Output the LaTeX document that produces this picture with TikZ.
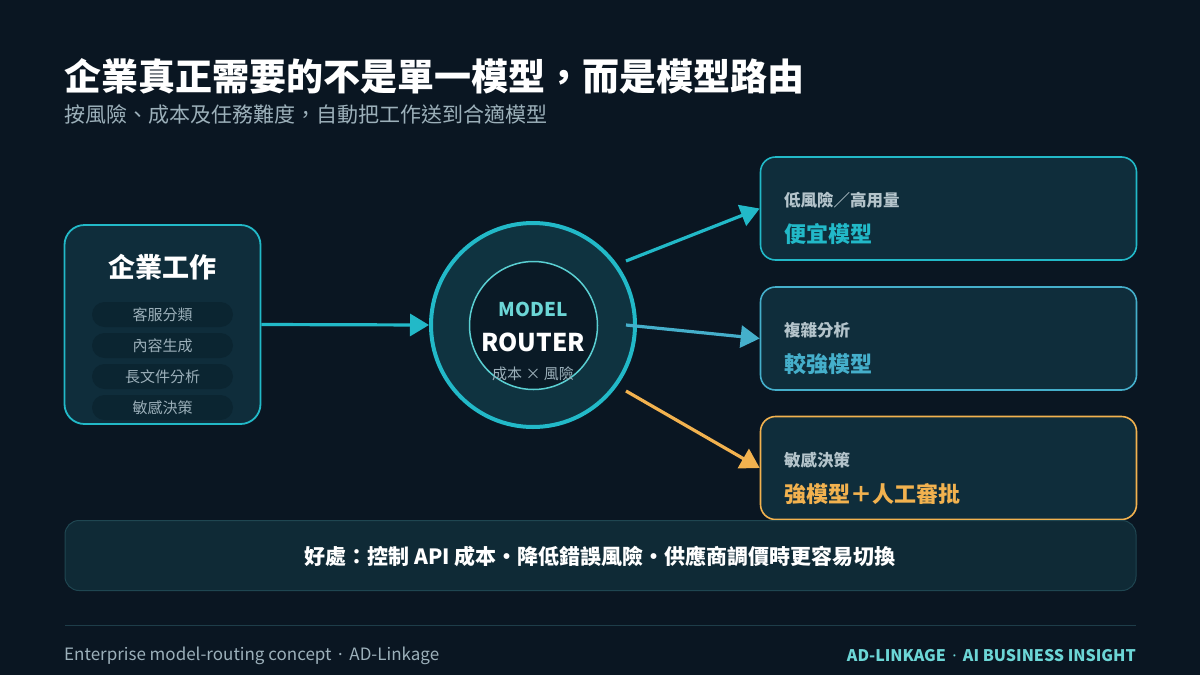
\documentclass[tikz,border=0pt]{standalone}
\usepackage{fontspec}
\setmainfont{Noto Sans CJK TC}
\newfontfamily\dotf{Noto Sans}
\usetikzlibrary{arrows.meta}
\definecolor{bg}{HTML}{0A1622}
\definecolor{boxfill}{HTML}{0F2D3B}
\definecolor{pillfill}{HTML}{0B2531}
\definecolor{tealc}{HTML}{22B9C8}
\definecolor{bluec}{HTML}{45AFCB}
\definecolor{orangec}{HTML}{F2B24F}
\definecolor{lightteal}{HTML}{6CD6D6}
\definecolor{grayt}{HTML}{9CB0BA}
\definecolor{labelt}{HTML}{B4C4CB}
\definecolor{barfill}{HTML}{0F2A36}
\definecolor{barline}{HTML}{1F4651}
\definecolor{sepline}{HTML}{1E3D49}
\definecolor{innerfill}{HTML}{0A1A26}
\definecolor{ringfill}{HTML}{0F3340}
\definecolor{innerline}{HTML}{5ACFD2}
\newcommand{\fsz}[1]{\fontsize{#1}{#1}\selectfont}
\tikzset{
  card/.style={draw=#1, line width=1.6pt, fill=boxfill, rounded corners=15pt, minimum width=376pt, minimum height=103pt, inner sep=0pt},
  pill/.style={fill=pillfill, rounded corners=12.5pt, minimum width=141pt, minimum height=25pt, inner sep=0pt, text=grayt, font=\fsz{15}},
  smalllab/.style={anchor=west, inner sep=0pt, text=labelt, font=\bfseries\fsz{16.5}},
  biglab/.style={anchor=west, inner sep=0pt, font=\bfseries\fsz{22}},
  arr/.style={line width=3.2pt, -{Triangle[length=19pt 0 0,width=22pt 0 0]}},
}
\begin{document}
\begin{tikzpicture}[x=1pt,y=-1pt]
\fill[bg] (0,0) rectangle (1200,675);
\useasboundingbox (0,0) rectangle (1200,675);

% title
\node[anchor=west, inner sep=0pt, text=white, font=\bfseries\fsz{37}] (title) at (64,76) {企業真正需要的不是單一模型，而是模型路由};
\node[anchor=west, inner sep=0pt, text=grayt, font=\fsz{21}] (subtitle) at (64,115) {按風險、成本及任務難度，自動把工作送到合適模型};

% left box
\node[draw=tealc, line width=1.8pt, fill=boxfill, rounded corners=20pt, minimum width=196pt, minimum height=199pt] (lbox) at (162.5,324.5) {};
\node[inner sep=0pt, text=white, font=\bfseries\fsz{27}] (ltitle) at (162.5,267) {企業工作};
\node[pill] (p1) at (162.5,314.5) {客服分類};
\node[pill] (p2) at (162.5,345.5) {內容生成};
\node[pill] (p3) at (162.5,376.5) {長文件分析};
\node[pill] (p4) at (162.5,407.5) {敏感決策};

% router
\node[circle, draw=tealc, line width=4pt, fill=ringfill, minimum size=204pt, inner sep=0pt] (router) at (533,325) {};
\node[circle, draw=innerline, line width=1.5pt, fill=innerfill, minimum size=128pt, inner sep=0pt] (inner) at (533.5,325.5) {};
\node[inner sep=0pt, text=lightteal, font=\bfseries\fsz{19}] (model) at (533,309) {MODEL};
\node[inner sep=0pt, text=white, font=\bfseries\fsz{24.5}] (routert) at (533,342) {ROUTER};
\node[inner sep=0pt, text=grayt, font=\fsz{15}] (cr) at (533,374) {成本 × 風險};

% right cards
\node[card=tealc] (b1) at (948.5,208.5) {};
\node[card=bluec] (b2) at (948.5,338.5) {};
\node[card=orangec] (b3) at (948.5,468) {};
\node[smalllab] (l1) at (784,200) {低風險／高用量};
\node[biglab, text=tealc] (t1) at (784,234) {便宜模型};
\node[smalllab] (l2) at (784,330) {複雜分析};
\node[biglab, text=bluec] (t2) at (784,364) {較強模型};
\node[smalllab] (l3) at (784,460) {敏感決策};
\node[biglab, text=orangec] (t3) at (784,494) {強模型＋人工審批};

% arrows
\draw[arr, tealc] (lbox.east) -- (router.west);
\coordinate (s1) at (626,261);
\coordinate (s2) at (626,325);
\coordinate (s3) at (626,391);
\draw[arr, tealc] (s1) -- (b1.west);
\draw[arr, bluec] (s2) -- (b2.west);
\draw[arr, orangec] (s3) -- (b3.west);

% bottom bar
\node[draw=barline, line width=1pt, fill=barfill, rounded corners=14pt, minimum width=1071pt, minimum height=70pt, inner sep=0pt] (bar) at (600.5,555.5) {};
\node[inner sep=0pt, text=white, font=\bfseries\fsz{21}] (bart) at (600,556) {好處：控制 API 成本・降低錯誤風險・供應商調價時更容易切換};

% footer
\coordinate (sepl) at (65,625);
\coordinate (sepr) at (1136,625);
\draw[sepline, line width=1pt] (sepl) -- (sepr);
\node[anchor=west, inner sep=0pt, text=grayt, font=\fsz{17}] (fl) at (64,656) {Enterprise model-routing concept\, {\dotf ·}\, AD-Linkage};
\node[anchor=east, inner sep=0pt, text=lightteal, font=\bfseries\fsz{16}] (fr) at (1136,656) {AD-LINKAGE\, {\dotf\bfseries ·}\, AI BUSINESS INSIGHT};
\end{tikzpicture}
\end{document}
